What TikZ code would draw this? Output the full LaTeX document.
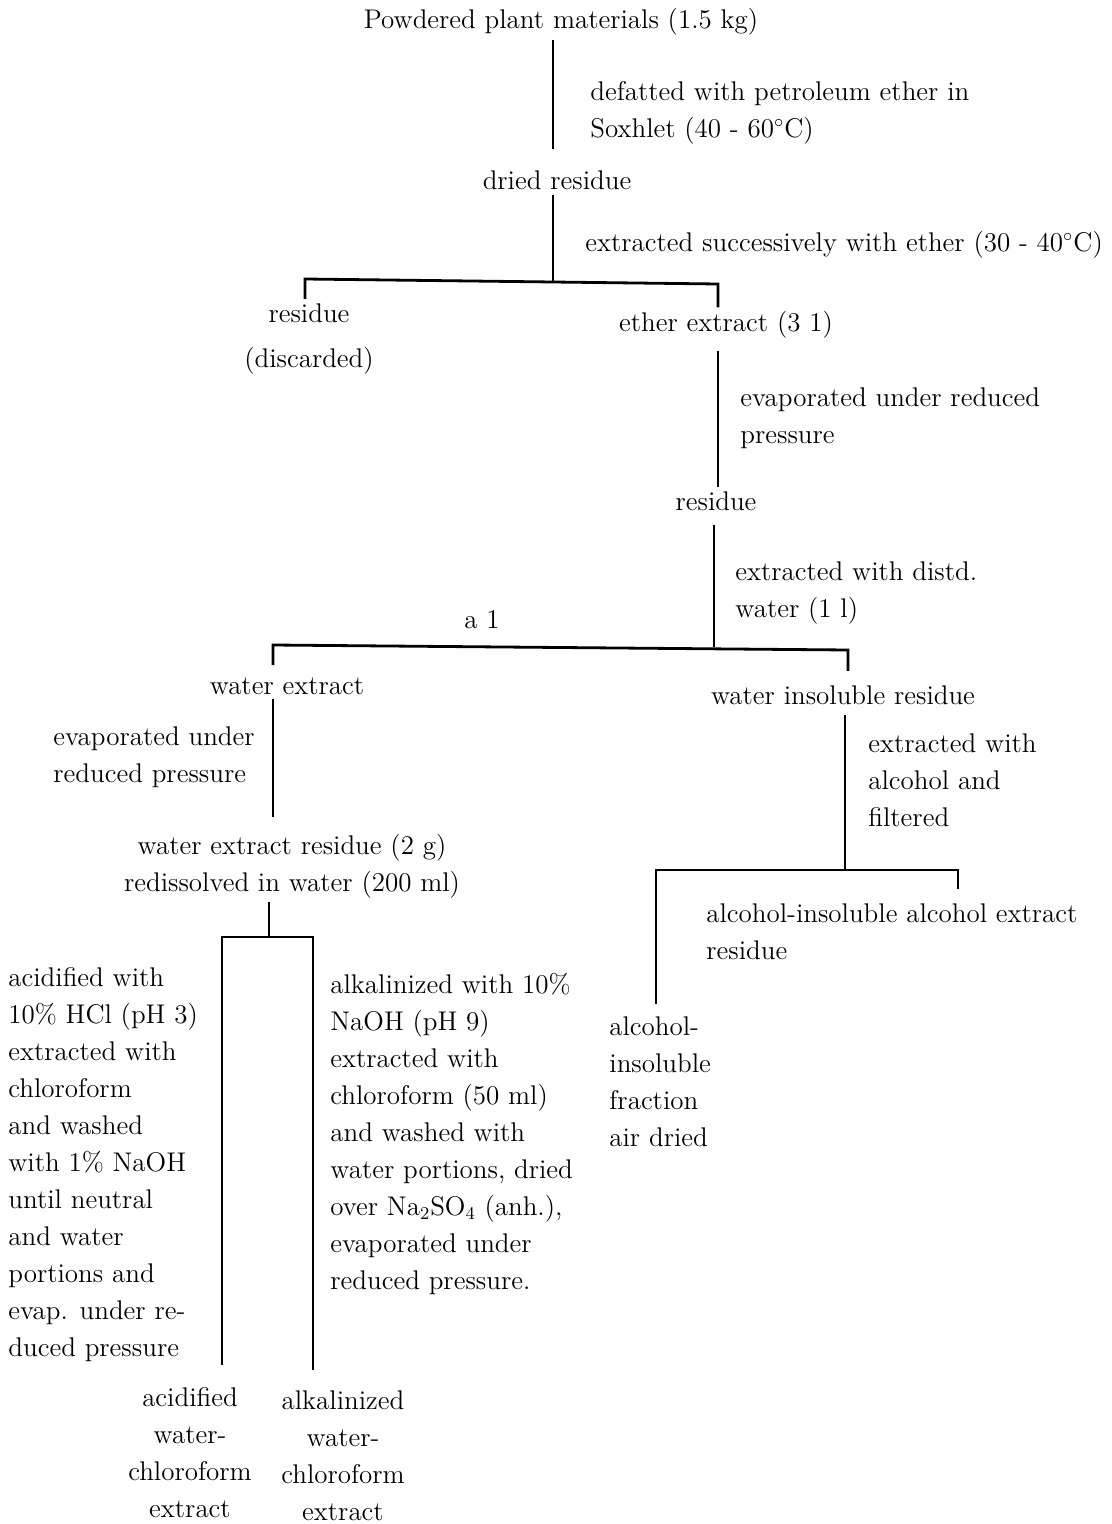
\documentclass[tikz,border=0pt]{standalone}
\usetikzlibrary{positioning}
\begin{document}
\begin{tikzpicture}[
    x=0.5pt, y=-0.5pt,
    font=\fontsize{13.5}{18.5}\selectfont
]
\tikzset{
    stepnode/.style = {align=center, inner sep=2pt, anchor=base},
    notenode/.style = {align=left, inner sep=0pt, anchor=base west},
    edgen/.style = {line width=1.4pt}
}
\useasboundingbox (0,0) rectangle (1112,1524);
% steps (multi-line nodes sit on the baseline of their last line)
\node[stepnode] at (561,29) (powder) {Powdered plant materials (1.5 kg)};
\node[stepnode] at (557,190) (dried) {dried residue};
\node[stepnode] at (309,367) (disc) {residue\\[4pt](discarded)};
\node[stepnode] at (726,332) (ether) {ether extract (3 1)};
\node[stepnode] at (716,510) (res2) {residue};
\node[stepnode] at (482,628) (a1) {a 1};
\node[stepnode] at (287,694) (wext) {water extract};
\node[stepnode] at (843,704) (wins) {water insoluble residue};
\node[stepnode] at (292,891) (wres) {water extract residue (2 g)\\redissolved in water (200 ml)};
\node[stepnode] at (190,1517) (acidext) {acidified\\water-\\chloroform\\extract};
\node[stepnode] at (343,1520) (alkext) {alkalinized\\water-\\chloroform\\extract};
% notes
\node[notenode] at (590,138) (n1) {defatted with petroleum ether in\\Soxhlet (40 - 60$^{\circ}$C)};
\node[notenode] at (585,252) (n2) {extracted successively with ether (30 - 40$^{\circ}$C)};
\node[notenode] at (740,443) (n3) {evaporated under reduced\\pressure};
\node[notenode] at (735,617) (n4) {extracted with distd.\\water (1 l)};
\node[notenode] at (53,782) (n5) {evaporated under\\reduced pressure};
\node[notenode] at (868,826) (n6) {extracted with\\alcohol and\\filtered};
\node[notenode] at (706,959) (alcext) {alcohol-insoluble alcohol extract\\residue};
\node[notenode] at (609,1146) (alcins) {alcohol-\\insoluble\\fraction\\air dried};
\node[notenode] at (8,1356) (n7) {acidified with\\10\% HCl (pH 3)\\extracted with\\chloroform\\and washed\\with 1\% NaOH\\until neutral\\and water\\portions and\\evap. under re-\\duced pressure};
\node[notenode] at (330,1289) (n8) {alkalinized with 10\%\\NaOH (pH 9)\\extracted with\\chloroform (50 ml)\\and washed with\\water portions, dried\\over Na$_2$SO$_4$ (anh.),\\evaporated under\\reduced pressure.};
% junctions
\coordinate (j1) at (553,282);
\coordinate (b1l) at (305,279);
\coordinate (b1r) at (718,284);
\coordinate (j2) at (714,647);
\coordinate (b2l) at (273,645);
\coordinate (b2r) at (848,650);
\coordinate (j3) at (845,870);
\coordinate (b3l) at (656,870);
\coordinate (b3r) at (958,870);
\coordinate (j4) at (269,937);
\coordinate (b4l) at (222,937);
\coordinate (b4r) at (313,937);
% links
\draw[edgen, shorten >=9pt] (powder.south -| j1) -- (dried.north -| j1);
\draw[edgen] (dried.south -| j1) -- (j1);
\draw[edgen] (b1l |- disc.north) -- (b1l) -- (b1r) -- (b1r |- ether.north);
\draw[edgen, shorten <=4pt] (ether.south -| b1r) -- (res2.north -| b1r);
\draw[edgen, shorten <=5pt] (res2.south -| j2) -- (j2);
\draw[edgen, shorten <=4pt, shorten >=5pt] (b2l |- wext.north) -- (b2l) -- (b2r) -- (b2r |- wins.north);
\draw[edgen, shorten >=6pt] (b2l |- wext.south) -- (b2l |- wres.north);
\draw[edgen, shorten <=3pt] (wins.south -| j3) -- (j3);
\draw[edgen, shorten <=6pt, shorten >=7pt] (b3l |- alcins.north) -- (b3l) -- (b3r) -- (b3r |- alcext.north);
\draw[edgen] (wres.south -| j4) -- (j4);
\draw[edgen, shorten <=9pt, shorten >=8pt] (b4l |- acidext.north) -- (b4l) -- (b4r) -- (b4r |- alkext.north);
\end{tikzpicture}
\end{document}
